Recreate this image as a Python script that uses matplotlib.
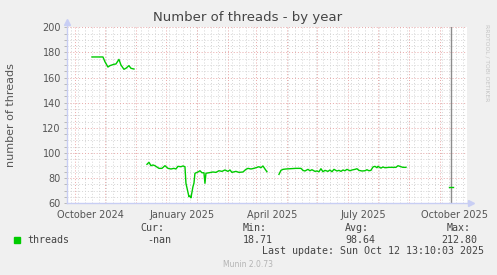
#!/usr/bin/env python3
"""Munin style 'Number of threads - by year' graph"""

import matplotlib
matplotlib.use("Agg")
import matplotlib.pyplot as plt
import matplotlib.dates as mdates
import numpy as np
import pandas as pd

# ── data ─────────────────────────────────────────────────────
dates = [
    # block 1 (Oct - Nov 2024)
    "2024-10-03", "2024-10-14", "2024-10-16", "2024-10-19", "2024-10-21",
    "2024-10-25", "2024-10-27", "2024-10-30", "2024-11-01", "2024-11-04",
    "2024-11-06", "2024-11-09", "2024-11-11", "2024-11-14",
    "2024-11-20",  # gap
    # block 2 (Nov 2024 - Mar 2025)
    "2024-11-27", "2024-11-29", "2024-12-01", "2024-12-03", "2024-12-05",
    "2024-12-09", "2024-12-12", "2024-12-15", "2024-12-18", "2024-12-21",
    "2024-12-24", "2024-12-26", "2024-12-28", "2024-12-31", "2025-01-02",
    "2025-01-04", "2025-01-05", "2025-01-08", "2025-01-09", "2025-01-10",
    "2025-01-12", "2025-01-13", "2025-01-14", "2025-01-17", "2025-01-19",
    "2025-01-21", "2025-01-23", "2025-01-24", "2025-01-25", "2025-01-28",
    "2025-02-01", "2025-02-04", "2025-02-07", "2025-02-10", "2025-02-13",
    "2025-02-16", "2025-02-18", "2025-02-20", "2025-02-24", "2025-02-27",
    "2025-03-03", "2025-03-06", "2025-03-08", "2025-03-11", "2025-03-14",
    "2025-03-16", "2025-03-19", "2025-03-21", "2025-03-23", "2025-03-25",
    "2025-03-27",
    "2025-04-02",  # gap
    # block 3 (Apr - Aug 2025)
    "2025-04-08", "2025-04-10", "2025-04-12", "2025-04-15", "2025-04-19",
    "2025-04-25", "2025-04-30", "2025-05-02", "2025-05-04", "2025-05-07",
    "2025-05-09", "2025-05-11", "2025-05-14", "2025-05-16", "2025-05-18",
    "2025-05-20", "2025-05-22", "2025-05-24", "2025-05-27", "2025-05-29",
    "2025-05-31", "2025-06-02", "2025-06-05", "2025-06-07", "2025-06-09",
    "2025-06-11", "2025-06-13", "2025-06-15", "2025-06-18", "2025-06-20",
    "2025-06-23", "2025-06-25", "2025-06-27", "2025-06-30", "2025-07-03",
    "2025-07-05", "2025-07-07", "2025-07-09", "2025-07-11", "2025-07-13",
    "2025-07-15", "2025-07-16", "2025-07-19", "2025-07-21", "2025-07-23",
    "2025-07-27", "2025-08-03", "2025-08-05", "2025-08-08", "2025-08-10",
    "2025-08-13",
]
threads = [
    176.4, 176.4, 172.6, 168.4, 169.5,
    170.6, 170.8, 174.5, 170.0, 166.6,
    167.4, 169.5, 167.4, 166.8,
    np.nan,
    91.0, 92.6, 89.9, 90.5, 89.9,
    87.8, 87.8, 89.9, 87.8, 87.3,
    87.8, 87.3, 89.4, 89.1, 89.7,
    89.1, 75.9, 65.2, 65.8, 64.4,
    73.2, 76.0, 83.9, 84.9, 85.9,
    84.3, 84.3, 75.9, 83.9, 84.3,
    84.9, 84.6, 85.9, 85.4, 86.5,
    85.4, 86.5, 84.6, 85.4, 84.6,
    84.9, 87.0, 87.8, 87.3, 87.8,
    88.3, 89.1, 88.3, 89.7, 87.3,
    85.1,
    np.nan,
    83.0, 86.2, 87.0, 87.3, 87.5,
    87.8, 87.8, 86.2, 85.7, 87.0,
    85.9, 86.7, 85.4, 85.7, 85.1,
    87.5, 85.1, 86.2, 85.4, 86.5,
    85.1, 87.0, 85.7, 86.2, 85.4,
    86.5, 85.9, 87.0, 85.9, 86.5,
    87.0, 87.5, 86.2, 85.7, 85.9,
    86.7, 85.9, 86.2, 88.9, 89.4,
    88.3, 89.4, 88.0, 88.9, 88.3,
    88.6, 88.6, 89.9, 89.1, 88.6,
    88.6,
]
# short isolated sample near the end
tail_dates = ["2025-09-25", "2025-09-29"]
tail_threads = [72.7, 72.7]
# grey vertical rule
rule_dates = ["2025-09-27"]

period_start = "2024-09-07 13:10"
last_update = "2025-10-12 13:10"
x_labels = ["2024-10-01", "2025-01-01", "2025-04-01", "2025-07-01", "2025-10-01"]

legend_cols = ["Cur:", "Min:", "Avg:", "Max:"]
legend_vals = ["-nan", "18.71", "98.64", "212.80"]

# ── colours ──────────────────────────────────────────────────
BG = "#F0F0F0"
GREEN = "#00CC00"
MGRID = "#E8A8A8"
GRID = "#D4D4D4"
AXIS = "#C8CEF4"
TXT = "#555555"

W, H = 497, 275
fig = plt.figure(figsize=(W / 100, H / 100), dpi=100, facecolor=BG)
L, R, T, B = 66.5, 466.5, 27.3, 203.3
ax = fig.add_axes([L / W, 1 - B / H, (R - L) / W, (B - T) / H])
ax.set_facecolor("white")

x0, x1 = pd.Timestamp(period_start), pd.Timestamp(last_update)
ax.set_xlim(x0, x1)
ax.set_ylim(60, 200)

# ── grid ─────────────────────────────────────────────────────
dot = (0, (1, 2))
for d in pd.date_range(x0.normalize(), x1, freq="W-THU"):
    ax.axvline(d, color=GRID, lw=0.7, ls=dot, zorder=1)
for d in pd.date_range("2024-08-01", x1, freq="MS") + pd.Timedelta(days=15):
    if x0 < d < x1:
        ax.axvline(d, color=MGRID, lw=0.7, ls=dot, zorder=2)
for y in range(60, 201, 5):
    ax.axhline(y, color=MGRID if y % 20 == 0 else GRID, lw=0.7, ls=dot,
               zorder=2 if y % 20 == 0 else 1)

# ── series ───────────────────────────────────────────────────
ax.plot(pd.to_datetime(dates), threads, color=GREEN, lw=1.0, zorder=4)
ax.plot(pd.to_datetime(tail_dates), tail_threads, color=GREEN, lw=1.0, zorder=4)
for d in rule_dates:
    ax.axvline(pd.Timestamp(d), color="#8C8C8C", lw=1.0, zorder=3)

# ── axes ─────────────────────────────────────────────────────
for sp in ax.spines.values():
    sp.set_visible(False)
ax.plot([0, 0], [0, 1.03], transform=ax.transAxes, color=AXIS, lw=1.0,
        clip_on=False, zorder=5)
ax.plot([0, 1.012], [0, 0], transform=ax.transAxes, color=AXIS, lw=1.0,
        clip_on=False, zorder=5)
ax.plot([0], [1.03], marker="^", ms=4, color=AXIS, transform=ax.transAxes,
        clip_on=False, zorder=5)
ax.plot([1.012], [0], marker=">", ms=4, color=AXIS, transform=ax.transAxes,
        clip_on=False, zorder=5)

ax.set_yticks(range(60, 201, 20))
ax.set_yticks(range(60, 201, 5), minor=True)
ax.tick_params(axis="y", which="both", length=2, width=0.6, color="#B0B0B0",
               labelsize=7, labelcolor=TXT, pad=2)
ax.set_xticks(pd.to_datetime(x_labels))
ax.xaxis.set_major_formatter(mdates.DateFormatter("%B %Y"))
ax.tick_params(axis="x", length=0, labelsize=7, labelcolor=TXT, pad=5)

# ── texts ────────────────────────────────────────────────────
fig.text(11 / W, 1 - 115 / H, "number of threads", rotation=90, ha="center",
         va="center", fontsize=8, color=TXT)
fig.text(248 / W, 1 - 18 / H, "Number of threads - by year", ha="center",
         va="center", fontsize=9.5, color="#444444")
fig.text(487 / W, 1 - 63 / H, "RRDTOOL / TOBI OETIKER", rotation=270,
         ha="center", va="center", fontsize=4.3, color="#C4C4C4")

MONO = dict(family="DejaVu Sans Mono", fontsize=7.2, color="#444444", va="center")
fig.patches.append(plt.Rectangle((14 / W, 1 - 243 / H), 6 / W, 6 / H,
                                 transform=fig.transFigure, color=GREEN))
fig.text(27 / W, 1 - 240 / H, "threads", **MONO)
col_x = [140, 243, 345, 447]
val_x = [147, 243, 345, 441]
for cx, vx, c, v in zip(col_x, val_x, legend_cols, legend_vals):
    fig.text(cx / W, 1 - 228.3 / H, c, **MONO)
    fig.text(vx / W, 1 - 240 / H, v, **MONO)
fig.text(262 / W, 1 - 251.5 / H, "Last update: Sun Oct 12 13:10:03 2025", **MONO)
fig.text(248 / W, 1 - 264.5 / H, "Munin 2.0.73", ha="center", va="center",
         fontsize=5.5, color="#B4B4B4")

fig.savefig("out.png", dpi=100, facecolor=BG)
